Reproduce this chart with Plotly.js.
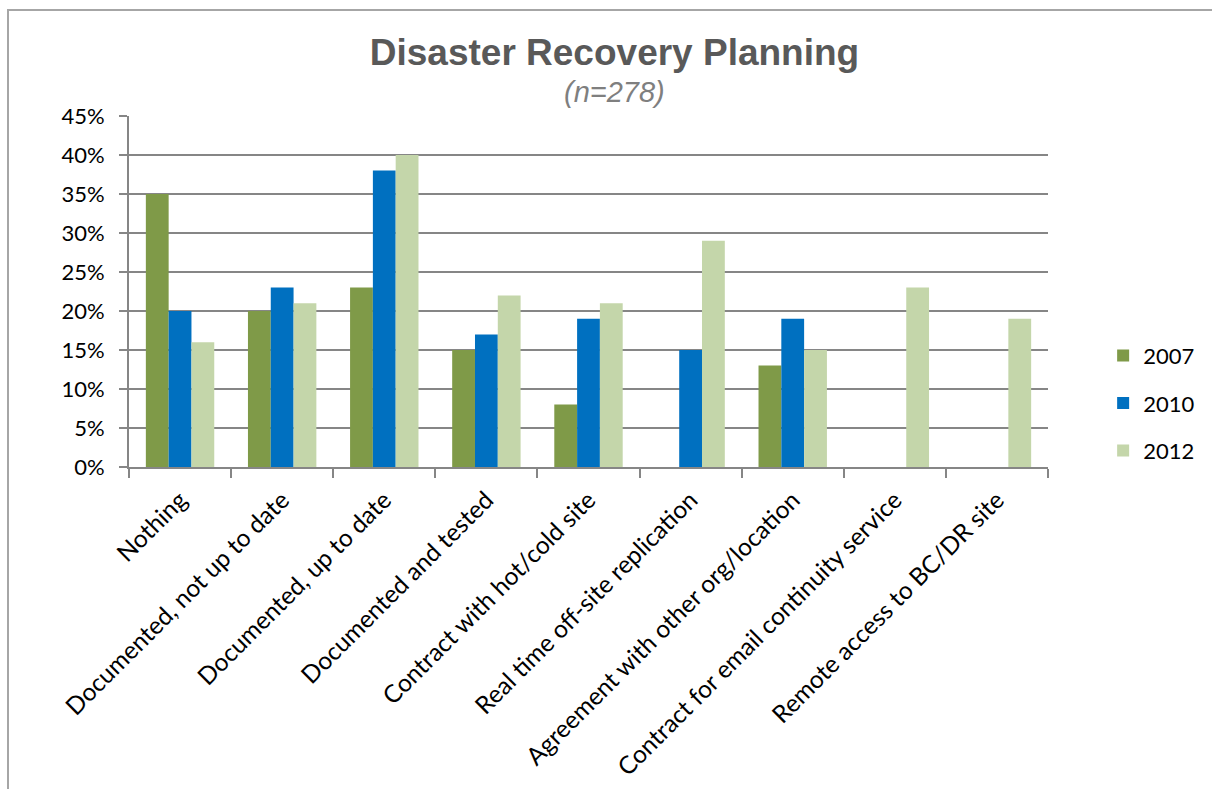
<!DOCTYPE html>
<html><head><meta charset="utf-8">
<script src="https://cdn.plot.ly/plotly-3.0.1.min.js"></script>
<style>
html,body{margin:0;padding:0;background:#fff;}
#wrap{position:relative;width:1212px;height:789px;overflow:hidden;}
#frame{position:absolute;left:7px;top:9px;width:1230px;height:800px;border:2px solid #A6A6A6;box-sizing:border-box;}
#chart{position:absolute;left:0;top:0;width:1212px;height:789px;}
</style>
</head><body>
<div id="wrap"><div id="frame"></div><div id="chart"></div></div>
<script>
const categories = ["Nothing","Documented, not up to date","Documented, up to date","Documented and tested","Contract with hot/cold site","Real time off-site replication","Agreement with other org/location","Contract for email continuity service","Remote access to BC/DR site"];
const years = ["2007","2010","2012"];
const v2007 = [0.35,0.20,0.23,0.15,0.08,null,0.13,null,null];
const v2010 = [0.20,0.23,0.38,0.17,0.19,0.15,0.19,null,null];
const v2012 = [0.16,0.21,0.40,0.22,0.21,0.29,0.15,0.23,0.19];
const chartTitle = "Disaster Recovery Planning";
const chartSubtitle = "(n=278)";
const colors = ["#7F9A48","#0070C0","#C4D6AA"];
const series = [v2007,v2010,v2012];
const data = series.map((s,i)=>({type:'bar',name:years[i],legendgroup:'g'+i,x:categories,y:s,marker:{color:colors[i]},hoverinfo:'x+y'}));
const baseFont = 'Lato, "Open Sans", sans-serif';
const layout = {
  width:1212,height:789,
  paper_bgcolor:'rgba(0,0,0,0)',plot_bgcolor:'rgba(0,0,0,0)',
  margin:{l:129,r:164,t:116,b:322},
  font:{family:baseFont,size:22,color:'#000'},
  title:{text:'<b>'+chartTitle+'</b>',
    font:{family:'"Liberation Sans", Arial, sans-serif',size:37,color:'#595959'},
    x:0.507,xanchor:'center',xref:'container',y:0.934,yanchor:'middle',yref:'container'},
  annotations:[{text:'<i>'+chartSubtitle+'</i>',xref:'paper',yref:'paper',x:0.528,y:1.068,xanchor:'center',yanchor:'middle',
    showarrow:false,font:{family:'"Liberation Sans", Arial, sans-serif',size:29,color:'#7F7F7F'}}],
  bargap:0.33,bargroupgap:0,barmode:'group',
  xaxis:{tickangle:-45,showline:true,linecolor:'#868686',linewidth:2,ticks:'outside',ticklen:9,tickcolor:'#868686',tickwidth:2,
    tickson:'boundaries',showgrid:false,tickfont:{size:24.5,family:baseFont},ticklabelstandoff:7,automargin:false},
  yaxis:{range:[0,0.45],dtick:0.05,tickformat:'.0%',showline:true,linecolor:'#868686',linewidth:2,ticks:'outside',ticklen:8,
    tickcolor:'#868686',tickwidth:2,showgrid:true,gridcolor:'#868686',gridwidth:2,zeroline:false,
    tickfont:{size:22,family:baseFont},ticklabelstandoff:10,automargin:false},
  legend:{x:1.06,y:0.182,yanchor:'middle',xanchor:'left',font:{size:22},tracegroupgap:16,itemwidth:30,bgcolor:'rgba(0,0,0,0)'},
  showlegend:true
};
Plotly.newPlot('chart',data,layout,{displayModeBar:false});
</script>
</body></html>
